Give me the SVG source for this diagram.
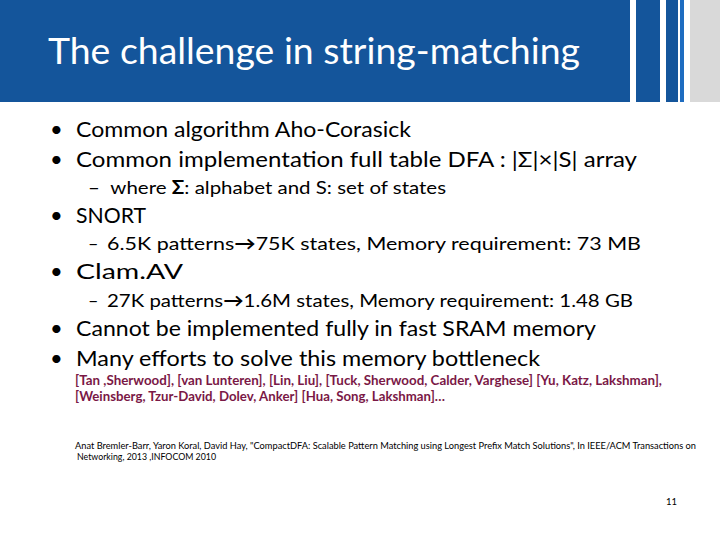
<svg xmlns="http://www.w3.org/2000/svg" width="720" height="540" viewBox="0 0 720 540">
<style>
text{font-family:Lato,"Open Sans","Liberation Sans",sans-serif;fill:#000}
.b{font-size:22px}
.s{font-size:18px}
.r{font-size:13px;fill:#7a1846;font-weight:bold}
.c{font-size:9.5px}
</style>
<rect width="720" height="540" fill="#fff"/>
<rect x="0" y="0" width="630" height="102" fill="#14559b"/>
<rect x="636" y="0" width="24" height="102" fill="#14559b"/>
<rect x="666" y="0" width="12" height="102" fill="#14559b"/>
<rect x="680" y="0" width="4" height="102" fill="#1e6cc0"/>
<rect x="690" y="0" width="30" height="102" fill="#d9d9d9"/>
<text x="48" y="64" font-size="36" style="fill:#fff" textLength="532" lengthAdjust="spacingAndGlyphs">The challenge in string-matching</text>
<g class="b">
<text x="50" y="137">•</text><text x="76" y="137" textLength="335" lengthAdjust="spacingAndGlyphs">Common algorithm Aho-Corasick</text>
<text x="50" y="167">•</text><text x="76" y="167" textLength="561" lengthAdjust="spacingAndGlyphs">Common implementation full table DFA : |Σ|×|S| array</text>
<text x="50" y="223">•</text><text x="76" y="223" textLength="70" lengthAdjust="spacingAndGlyphs">SNORT</text>
<text x="50" y="279">•</text><text x="76" y="279" textLength="107" lengthAdjust="spacingAndGlyphs">Clam.AV</text>
<text x="50" y="336">•</text><text x="76" y="336" textLength="520" lengthAdjust="spacingAndGlyphs">Cannot be implemented fully in fast SRAM memory</text>
<text x="50" y="366">•</text><text x="76" y="366" textLength="464" lengthAdjust="spacingAndGlyphs">Many efforts to solve this memory bottleneck</text>
</g>
<g class="s">
<text x="88" y="194" textLength="358" lengthAdjust="spacingAndGlyphs">– <tspan dx="5">where </tspan><tspan font-weight="bold">Σ</tspan>: alphabet and S: set of states</text>
<text x="88" y="250">– </text><text x="107" y="250" textLength="534" lengthAdjust="spacingAndGlyphs">6.5K patterns<tspan font-weight="bold">→</tspan>75K states, Memory requirement: 73 MB</text>
<text x="88" y="307">– </text><text x="107" y="307" textLength="526" lengthAdjust="spacingAndGlyphs">27K patterns<tspan font-weight="bold">→</tspan>1.6M states, Memory requirement: 1.48 GB</text>
</g>
<text class="r" x="75" y="385" textLength="587" lengthAdjust="spacingAndGlyphs">[Tan ,Sherwood], [van Lunteren], [Lin, Liu], [Tuck, Sherwood, Calder, Varghese] [Yu, Katz, Lakshman],</text>
<text class="r" x="75" y="401" textLength="370" lengthAdjust="spacingAndGlyphs">[Weinsberg, Tzur-David, Dolev, Anker] [Hua, Song, Lakshman]…</text>
<text class="c" x="75" y="449" textLength="621" lengthAdjust="spacingAndGlyphs">Anat Bremler-Barr, Yaron Koral, David Hay, "CompactDFA: Scalable Pattern Matching using Longest Prefix Match Solutions", In IEEE/ACM Transactions on</text>
<text class="c" x="77" y="460" textLength="139" lengthAdjust="spacingAndGlyphs">Networking, 2013 ,INFOCOM 2010</text>
<text x="666" y="505" font-size="10" textLength="11" lengthAdjust="spacingAndGlyphs">11</text>
</svg>
